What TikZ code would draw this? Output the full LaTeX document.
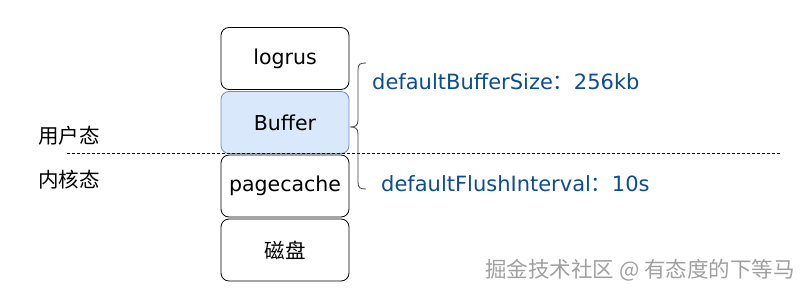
\documentclass[tikz,border=0pt]{standalone}
\usepackage{fontspec}
\setmainfont{DejaVu Sans}
\setsansfont{DejaVu Sans}
\newfontfamily\cjk{Noto Sans CJK SC}
\definecolor{bluetxt}{HTML}{0B4E8F}
\definecolor{buffill}{HTML}{DAE8FC}
\definecolor{bufdraw}{HTML}{6C8EBF}
\definecolor{wmgray}{HTML}{A0A0A0}
\begin{document}
\begin{tikzpicture}[x=1pt,y=-1pt,
  layer/.style={draw=black, line width=0.8pt, rounded corners=8pt, minimum width=128pt, minimum height=62pt, inner sep=0pt, font=\fontsize{20.5}{22}\selectfont, fill=white},
  bluelabel/.style={text=bluetxt, anchor=west, inner sep=0pt, font=\fontsize{21}{24}\selectfont},
  statelabel/.style={anchor=west, inner sep=0pt, font=\cjk\fontsize{20.5}{22}\selectfont}]
\useasboundingbox (0,0) rectangle (810,305);
\node[layer] (logrus) at (285,58.5) {logrus};
\node[layer, fill=buffill, draw=bufdraw] (buffer) at (285,122.5) {Buffer};
\node[layer] (pagecache) at (285,186) {pagecache};
\node[layer] (disk) at (285,250) {\cjk 磁盘};
\coordinate (dl) at (67,153);
\coordinate (dr) at (780,153);
\draw[dashed, line width=0.7pt, dash pattern=on 3pt off 2pt] (dl) -- (dr);
\node[statelabel] (user) at (38,136) {用户态};
\node[statelabel] (kernel) at (38,180) {内核态};
\coordinate (bt) at (366,63);
\coordinate (bb) at (366,189);
\coordinate (tip) at (350,127);
\draw[line width=0.8pt, black!75] (bt) .. controls (360,63) and (358,64) .. (358,70) -- (358,120) .. controls (358,126) and (355,127) .. (tip) .. controls (355,127) and (358,128) .. (358,134) -- (358,182) .. controls (358,188) and (360,189) .. (bb);
\node[bluelabel] (bsize) at (372,82) {defaultBufferSize{\cjk ：}256kb};
\node[bluelabel] (flush) at (381,184) {defaultFlushInterval{\cjk ：}10s};
\node[anchor=east, inner sep=0pt, text=wmgray, font=\cjk\fontsize{21.5}{24}\selectfont] (wm) at (795,270) {掘金技术社区 @ 有态度的下等马};
\end{tikzpicture}
\end{document}
